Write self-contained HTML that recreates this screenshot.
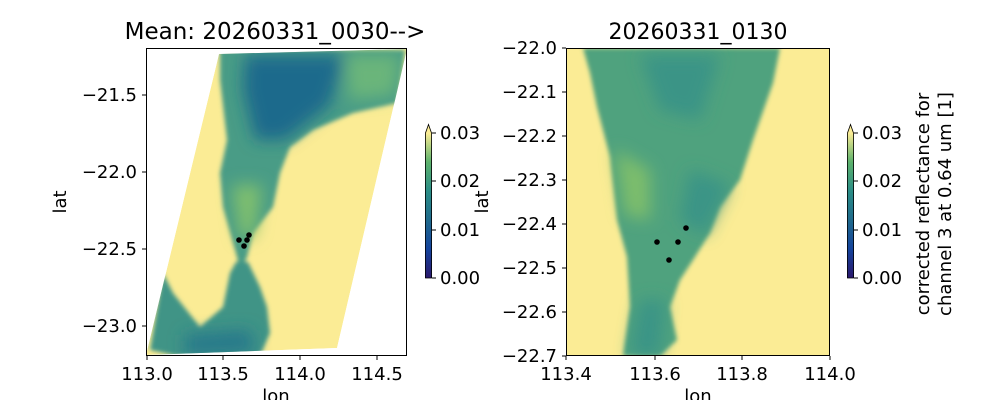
<!DOCTYPE html>
<html><head><meta charset="utf-8"><style>
body{margin:0;background:#fff;width:1000px;height:400px;overflow:hidden}
svg text{font-family:"DejaVu Sans","Liberation Sans",sans-serif;fill:#000}
</style></head><body>
<svg width="1000" height="400" viewBox="0 0 1000 400" xmlns="http://www.w3.org/2000/svg">
<defs>
<filter id="bl" x="-10%" y="-10%" width="120%" height="120%"><feGaussianBlur stdDeviation="2"/></filter>
<filter id="bl2" x="-20%" y="-20%" width="140%" height="140%"><feGaussianBlur stdDeviation="8"/></filter>
<linearGradient id="cb" x1="0" y1="1" x2="0" y2="0">
<stop offset="0" stop-color="#2a186c"/><stop offset="0.2" stop-color="#14439c"/>
<stop offset="0.4" stop-color="#1f6a8c"/><stop offset="0.6" stop-color="#2a8d86"/>
<stop offset="0.8" stop-color="#5db26c"/><stop offset="1" stop-color="#fbec95"/>
</linearGradient>
<clipPath id="cl"><polygon points="219,54 407,49 337,348 146,355"/></clipPath>
<clipPath id="cr"><rect x="566" y="48" width="264" height="308"/></clipPath>
</defs>
<!-- Left panel -->
<g clip-path="url(#cl)">
<polygon points="219,54 407,49 337,348 146,355" fill="#fbec95"/>
<g filter="url(#bl)">
<polygon points="220,50 405,50 397,103 353,113 313,130 290,147 280,173 273,207 253,233 247,257 240,272 237,257 223,207 220,173 227,140 220,80" fill="#4a9c86"/>
<polygon points="236,262 248,262 260,287 267,307 270,333 260,356 177,356 150,350 163,273 173,293 200,327 223,307 230,273" fill="#3f9486"/>
</g>
<g filter="url(#bl2)">
<polygon points="245,55 345,55 330,105 285,140 255,140 243,90" fill="#1f6a8c"/>
<polygon points="345,55 400,55 395,95 350,100" fill="#6ab57a"/>
<polygon points="185,335 250,330 255,352 185,355" fill="#25788b"/>
<polygon points="232,185 262,185 255,235 240,240" fill="#7fbf6e"/>
</g>
</g>
<rect x="146.5" y="48.5" width="260" height="307" fill="none" stroke="#000" stroke-width="1"/>
<g fill="#000"><circle cx="239" cy="240" r="2.8"/><circle cx="249" cy="235" r="2.8"/><circle cx="247" cy="240" r="2.8"/><circle cx="244" cy="246" r="2.8"/></g>
<g stroke="#000" stroke-width="1">
<line x1="147" y1="356" x2="147" y2="360"/><line x1="223" y1="356" x2="223" y2="360"/><line x1="300" y1="356" x2="300" y2="360"/><line x1="377" y1="356" x2="377" y2="360"/>
<line x1="142" y1="95" x2="146" y2="95"/><line x1="142" y1="172" x2="146" y2="172"/><line x1="142" y1="249" x2="146" y2="249"/><line x1="142" y1="326" x2="146" y2="326"/>
</g>
<g font-size="18" text-anchor="middle">
<text x="147" y="380">113.0</text><text x="223" y="380">113.5</text><text x="300" y="380">114.0</text><text x="377" y="380">114.5</text>
<text x="276" y="402">lon</text>
</g>
<g font-size="18" text-anchor="end">
<text x="137" y="101">−21.5</text><text x="137" y="178">−22.0</text><text x="137" y="255">−22.5</text><text x="137" y="332">−23.0</text>
</g>
<text x="66" y="202" font-size="18" text-anchor="middle" transform="rotate(-90 66 202)">lat</text>
<text x="275" y="39" font-size="23" text-anchor="middle">Mean: 20260331_0030--&gt;</text>
<!-- left colorbar -->
<rect x="425" y="133" width="7" height="145" fill="url(#cb)"/>
<polygon points="425,133 428.5,124 432,133" fill="#fbec95"/>
<polygon points="425.5,278 425.5,133 428.5,124.5 431.5,133 431.5,278" fill="none" stroke="#000" stroke-width="0.8"/>
<g stroke="#000"><line x1="432" y1="133" x2="436" y2="133"/><line x1="432" y1="181" x2="436" y2="181"/><line x1="432" y1="230" x2="436" y2="230"/><line x1="432" y1="278" x2="436" y2="278"/></g>
<g font-size="18"><text x="440" y="139">0.03</text><text x="440" y="187">0.02</text><text x="440" y="236">0.01</text><text x="440" y="284">0.00</text></g>
<text x="488" y="202" font-size="18" text-anchor="middle" transform="rotate(-90 488 202)">lat</text>
<!-- Right panel -->
<g clip-path="url(#cr)">
<rect x="566" y="48" width="264" height="308" fill="#fbec95"/>
<g filter="url(#bl)">
<polygon points="583,48 780,48 773,83 753,140 740,180 720,207 710,233 693,260 680,280 670,307 677,340 660,356 623,356 630,307 627,257 617,220 610,157 597,107 590,73" fill="#4fa27e"/>
</g>
<g filter="url(#bl2)">
<polygon points="640,55 720,55 700,120 660,110" fill="#3a9486"/>
<polygon points="690,170 730,185 705,235 680,220" fill="#3a9486"/>
<polygon points="615,150 650,170 650,220 625,215" fill="#7dbd6c"/>
<polygon points="640,300 665,300 660,356 630,356" fill="#3a9486"/>
</g>
</g>
<rect x="566.5" y="48.5" width="263" height="307" fill="none" stroke="#000" stroke-width="1"/>
<g fill="#000"><circle cx="686" cy="228" r="2.8"/><circle cx="657" cy="242" r="2.8"/><circle cx="678" cy="242" r="2.8"/><circle cx="669" cy="260" r="2.8"/></g>
<g stroke="#000" stroke-width="1">
<line x1="566" y1="356" x2="566" y2="360"/><line x1="655" y1="356" x2="655" y2="360"/><line x1="742" y1="356" x2="742" y2="360"/><line x1="830" y1="356" x2="830" y2="360"/>
<line x1="562" y1="48" x2="566" y2="48"/><line x1="562" y1="92" x2="566" y2="92"/><line x1="562" y1="136" x2="566" y2="136"/><line x1="562" y1="180" x2="566" y2="180"/><line x1="562" y1="224" x2="566" y2="224"/><line x1="562" y1="268" x2="566" y2="268"/><line x1="562" y1="312" x2="566" y2="312"/><line x1="562" y1="356" x2="566" y2="356"/>
</g>
<g font-size="18" text-anchor="middle">
<text x="566" y="380">113.4</text><text x="655" y="380">113.6</text><text x="742" y="380">113.8</text><text x="830" y="380">114.0</text>
<text x="698" y="402">lon</text>
</g>
<g font-size="18" text-anchor="end">
<text x="557" y="54">−22.0</text><text x="557" y="98">−22.1</text><text x="557" y="142">−22.2</text><text x="557" y="186">−22.3</text><text x="557" y="230">−22.4</text><text x="557" y="274">−22.5</text><text x="557" y="318">−22.6</text><text x="557" y="362">−22.7</text>
</g>
<text x="698" y="39" font-size="22" text-anchor="middle">20260331_0130</text>
<!-- right colorbar -->
<rect x="847" y="133" width="7" height="145" fill="url(#cb)"/>
<polygon points="847,133 850.5,124 854,133" fill="#fbec95"/>
<polygon points="847.5,278 847.5,133 850.5,124.5 853.5,133 853.5,278" fill="none" stroke="#000" stroke-width="0.8"/>
<g stroke="#000"><line x1="854" y1="133" x2="858" y2="133"/><line x1="854" y1="181" x2="858" y2="181"/><line x1="854" y1="230" x2="858" y2="230"/><line x1="854" y1="278" x2="858" y2="278"/></g>
<g font-size="18"><text x="862" y="139">0.03</text><text x="862" y="187">0.02</text><text x="862" y="236">0.01</text><text x="862" y="284">0.00</text></g>
<text x="929" y="204" font-size="18" text-anchor="middle" transform="rotate(-90 929 204)">corrected reflectance for</text>
<text x="951" y="204" font-size="18" text-anchor="middle" transform="rotate(-90 951 204)">channel 3 at 0.64 um [1]</text>
</svg>
</body></html>
